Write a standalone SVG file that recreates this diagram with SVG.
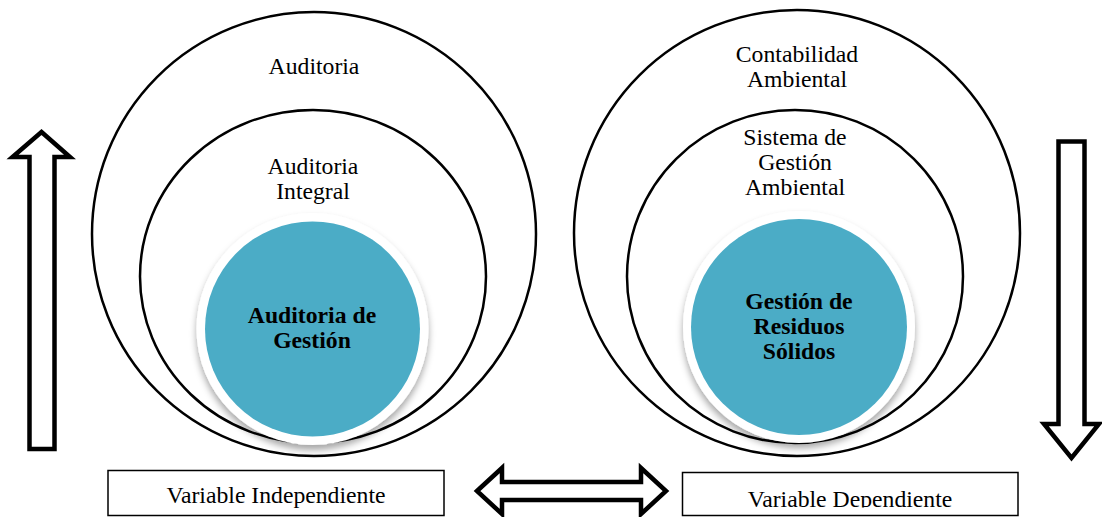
<svg xmlns="http://www.w3.org/2000/svg" width="1102" height="517" viewBox="0 0 1102 517">
<style>
.ring{fill:none;stroke:#000;stroke-width:2.5}
.t{font-family:"Liberation Serif","Times New Roman",serif;font-size:23.7px;fill:#000;text-anchor:middle}
.b{font-weight:bold}
.blk{fill:#fff;stroke:#000;stroke-width:4.5;stroke-linejoin:miter;stroke-miterlimit:10}
.box{fill:#fff;stroke:#000;stroke-width:1.5}
.core{fill:#4BACC6}
.halo{fill:#fff}
</style>
<defs>
<filter id="sh" x="-20%" y="-20%" width="140%" height="150%">
<feDropShadow dx="0" dy="5" stdDeviation="3.5" flood-color="#000" flood-opacity="0.35"/>
</filter>
<clipPath id="clipR"><rect x="682" y="472" width="336" height="35.5"/></clipPath>
</defs>
<rect width="1102" height="517" fill="#fff"/>

<g id="left-outer">
<circle class="ring" cx="314" cy="234" r="222"/>
<text class="t" x="314" y="74">Auditoria</text>
</g>
<g id="left-inner">
<ellipse class="ring" cx="313" cy="276.5" rx="173" ry="166.5"/>
<text class="t" x="313" y="174">Auditoria</text>
<text class="t" x="313" y="199">Integral</text>
</g>
<g id="left-core">
<circle class="halo" cx="312.5" cy="329" r="116" filter="url(#sh)"/>
<circle class="core" cx="312.5" cy="329" r="107.5"/>
<text class="t b" x="312" y="323">Auditoria de</text>
<text class="t b" x="312" y="348">Gestión</text>
</g>

<g id="right-outer">
<circle class="ring" cx="797" cy="233" r="223"/>
<text class="t" x="797" y="62">Contabilidad</text>
<text class="t" x="797" y="87">Ambiental</text>
</g>
<g id="right-inner">
<ellipse class="ring" cx="795" cy="276.5" rx="168" ry="166.5"/>
<text class="t" x="795" y="145">Sistema de</text>
<text class="t" x="795" y="170">Gestión</text>
<text class="t" x="795" y="195">Ambiental</text>
</g>
<g id="right-core">
<circle class="halo" cx="799" cy="327" r="116" filter="url(#sh)"/>
<circle class="core" cx="799" cy="327" r="108"/>
<text class="t b" x="799" y="309">Gestión de</text>
<text class="t b" x="799" y="334">Residuos</text>
<text class="t b" x="799" y="359">Sólidos</text>
</g>

<g id="box-independiente">
<rect class="box" x="108" y="470.5" width="336" height="45"/>
<text class="t" x="276" y="503">Variable Independiente</text>
</g>
<g id="box-dependiente">
<rect class="box" x="682.5" y="472.5" width="335.5" height="43"/>
<text class="t" x="850" y="507" clip-path="url(#clipR)">Variable Dependiente</text>
</g>

<g id="connectors">
<polygon class="blk" points="41.5,132 70,157 54.5,157 54.5,449 29.5,449 29.5,157 12.5,157"/>
<polygon class="blk" points="1058.5,141.5 1084.5,141.5 1084.5,424 1099,424 1071.5,458 1044,424 1058.5,424"/>
<polygon class="blk" points="477,491 502,468 502,482 641,482 641,468 666,491 641,514 641,500 502,500 502,514"/>
</g>
</svg>
